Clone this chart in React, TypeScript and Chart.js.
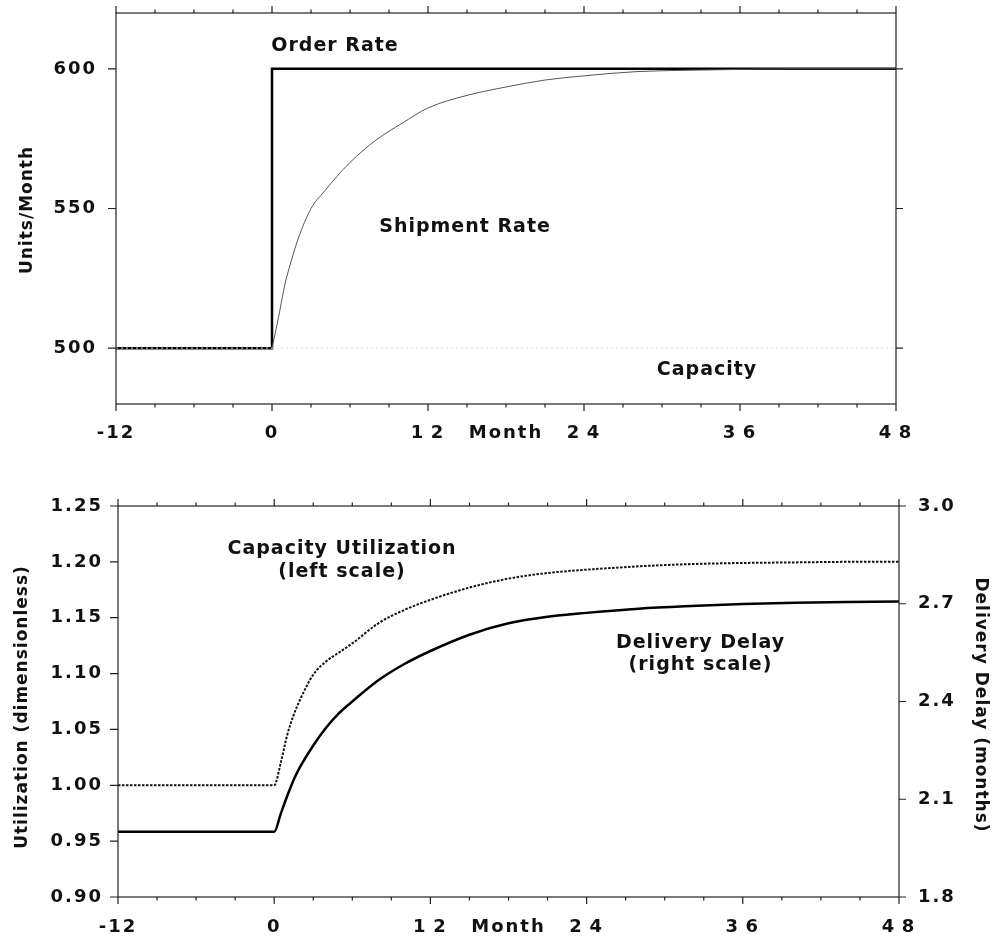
import React, { useEffect, useRef } from 'react';
import { Chart, registerables } from 'chart.js';

Chart.register(...registerables);

// ---------- Top panel data ----------
const orderMonths = [-12, 0, 0, 48];
const orderRate = [500, 500, 600, 600];

const shipmentMonths = [0, 0.5, 1, 1.5, 2, 3, 4, 5, 6, 8, 10, 12, 15, 18, 21, 24, 28, 32, 36, 40, 44, 48];
const shipmentRate = [500, 511, 523, 531.5, 539, 550, 556, 561.5, 566.5, 574.5, 580.5, 586, 590.5, 593.5, 596, 597.5, 599, 599.5, 599.8, 600, 600, 600];

const capacityMonths = [-12, 48];
const capacityRate = [500, 500];

const topYTicks = [500, 550, 600];
const topYLabels = ['500', '550', '600'];

// ---------- Bottom panel data ----------
const bottomMonths = [-12, 0, 0.5, 1, 1.5, 2, 3, 4, 5, 6, 8, 10, 12, 15, 18, 21, 24, 28, 32, 36, 40, 44, 48];
const utilization = [1.0, 1.0, 1.02, 1.045, 1.063, 1.077, 1.099, 1.111, 1.119, 1.127, 1.145, 1.157, 1.166, 1.177, 1.185, 1.19, 1.193, 1.196, 1.198, 1.199, 1.1995, 1.2, 1.2];
const deliveryDelay = [2.0, 2.0, 2.055, 2.11, 2.16, 2.2, 2.265, 2.32, 2.365, 2.4, 2.465, 2.515, 2.555, 2.605, 2.64, 2.66, 2.672, 2.685, 2.693, 2.699, 2.703, 2.705, 2.707];

const bottomYTicks = [0.9, 0.95, 1.0, 1.05, 1.1, 1.15, 1.2, 1.25];
const bottomYLabels = ['0.90', '0.95', '1.00', '1.05', '1.10', '1.15', '1.20', '1.25'];
const bottomY2Ticks = [1.8, 2.1, 2.4, 2.7, 3.0];
const bottomY2Labels = ['1.8', '2.1', '2.4', '2.7', '3.0'];

// ---------- Shared x axis ----------
const xMin = -12;
const xMax = 48;
const xStep = 3;
const xTickValues = [-12, 0, 12, 18, 24, 36, 48];
const xTickLabels = ['-12', '0', '1\u20092', 'Month', '2\u20094', '3\u20096', '4\u20098'];

// ---------- Annotations (data coordinates) ----------
const topNotes = [
  { text: 'Order Rate', x: 4.85, y: 608.2 },
  { text: 'Shipment Rate', x: 14.85, y: 543.4 },
  { text: 'Capacity', x: 33.46, y: 492.2 },
];
const bottomNotes = [
  { text: 'Capacity Utilization', x: 5.21, y: 1.2115 },
  { text: '(left scale)', x: 5.21, y: 1.1912 },
  { text: 'Delivery Delay', x: 32.75, y: 1.1276 },
  { text: '(right scale)', x: 32.75, y: 1.1077 },
];

const FONT = "'DejaVu Sans', 'Liberation Sans', sans-serif";
const INK = '#111';

const pts = (xs: number[], ys: number[]) => xs.map((x, i) => ({ x, y: ys[i] }));

const monthTicks = () => {
  const out: { value: number }[] = [];
  for (let v = xMin; v <= xMax; v += xStep) out.push({ value: v });
  return out;
};

const framePlugin = {
  id: 'frame',
  beforeDraw(chart: any) {
    chart.ctx.letterSpacing = '2px';
  },
  afterDraw(chart: any, _args: any, opts: any) {
    const ctx = chart.ctx;
    const { left, right, top, bottom } = chart.chartArea;
    ctx.save();
    ctx.strokeStyle = '#222';
    ctx.lineWidth = 1.2;
    ctx.strokeRect(left, top, right - left, bottom - top);
    ctx.beginPath();
    const xs = chart.scales.x;
    xs.ticks.forEach((t: any) => {
      const px = xs.getPixelForValue(t.value);
      const len = t.value % 12 === 0 ? 7 : 3.5;
      ctx.moveTo(px, bottom);
      ctx.lineTo(px, bottom + len);
      ctx.moveTo(px, top);
      ctx.lineTo(px, top - len);
    });
    const ys = chart.scales.y;
    const y2 = chart.scales.y2;
    ys.ticks.forEach((t: any) => {
      const py = ys.getPixelForValue(t.value);
      ctx.moveTo(left - 8, py);
      ctx.lineTo(left, py);
      if (!y2) {
        ctx.moveTo(right, py);
        ctx.lineTo(right + 7, py);
      }
    });
    if (y2) {
      y2.ticks.forEach((t: any) => {
        const py = y2.getPixelForValue(t.value);
        ctx.moveTo(right, py);
        ctx.lineTo(right + 7, py);
      });
    }
    ctx.stroke();

    // annotations
    ctx.letterSpacing = '1px';
    ctx.fillStyle = INK;
    ctx.font = `bold 19px ${FONT}`;
    ctx.textAlign = 'center';
    ctx.textBaseline = 'middle';
    (opts.notes || []).forEach((n: any) => {
      ctx.fillText(n.text, xs.getPixelForValue(n.x), ys.getPixelForValue(n.y));
    });

    // axis titles
    ctx.font = `bold 17px ${FONT}`;
    (opts.titles || []).forEach((t: any) => {
      ctx.save();
      ctx.translate(t.x, t.y);
      ctx.rotate(t.rot);
      ctx.fillText(t.text, 0, 0);
      ctx.restore();
    });
    ctx.restore();
  },
};

const tickFont = { family: FONT, size: 18, weight: 'bold' as const };
const hiddenGrid = { display: false, drawTicks: false, tickLength: 0 };

const noPad = (s: any) => {
  s.paddingTop = 0;
  s.paddingBottom = 0;
  s.paddingLeft = 0;
  s.paddingRight = 0;
};

const xScale = (height: number, padding: number) => ({
  type: 'linear',
  min: xMin,
  max: xMax,
  afterBuildTicks: (s: any) => {
    s.ticks = monthTicks();
  },
  afterFit: (s: any) => {
    s.height = height;
    noPad(s);
  },
  grid: hiddenGrid,
  border: { display: false },
  ticks: {
    autoSkip: false,
    maxRotation: 0,
    minRotation: 0,
    padding,
    font: tickFont,
    color: INK,
    callback: (v: number) => {
      const i = xTickValues.indexOf(v);
      return i >= 0 ? xTickLabels[i] : '';
    },
  },
});

const topConfig = (): any => ({
  type: 'line',
  data: {
    datasets: [
      {
        data: pts(capacityMonths, capacityRate),
        borderColor: '#dcdcdc',
        borderWidth: 1,
        borderDash: [2, 3],
        pointRadius: 0,
      },
      {
        data: pts(shipmentMonths, shipmentRate),
        borderColor: '#555',
        borderWidth: 1,
        pointRadius: 0,
        cubicInterpolationMode: 'monotone',
      },
      {
        data: pts(orderMonths, orderRate),
        borderColor: '#000',
        borderWidth: 2.5,
        pointRadius: 0,
        tension: 0,
      },
    ],
  },
  options: {
    responsive: false,
    animation: false,
    devicePixelRatio: 1,
    layout: { autoPadding: false, padding: { top: 13, right: 98, left: 0, bottom: 0 } },
    plugins: {
      legend: { display: false },
      tooltip: { enabled: false },
      frame: {
        notes: topNotes,
        titles: [{ text: 'Units/Month', x: 28, y: 210, rot: -Math.PI / 2 }],
      },
    },
    scales: {
      x: xScale(56, 19),
      y: {
        type: 'linear',
        min: 480,
        max: 620,
        afterBuildTicks: (s: any) => {
          s.ticks = topYTicks.map((v) => ({ value: v }));
        },
        afterFit: (s: any) => {
          s.width = 116;
          noPad(s);
        },
        grid: hiddenGrid,
        border: { display: false },
        ticks: {
          padding: 19,
          font: tickFont,
          color: INK,
          callback: (_v: number, i: number) => topYLabels[i],
        },
      },
    },
  },
  plugins: [framePlugin],
});

const bottomConfig = (): any => ({
  type: 'line',
  data: {
    datasets: [
      {
        data: pts(bottomMonths, utilization),
        yAxisID: 'y',
        borderColor: '#111',
        borderWidth: 2,
        borderDash: [2.5, 1.5],
        pointRadius: 0,
        cubicInterpolationMode: 'monotone',
      },
      {
        data: pts(bottomMonths, deliveryDelay),
        yAxisID: 'y2',
        borderColor: '#000',
        borderWidth: 2.5,
        pointRadius: 0,
        cubicInterpolationMode: 'monotone',
      },
    ],
  },
  options: {
    responsive: false,
    animation: false,
    devicePixelRatio: 1,
    layout: { autoPadding: false, padding: { top: 46, right: 0, left: 0, bottom: 0 } },
    plugins: {
      legend: { display: false },
      tooltip: { enabled: false },
      frame: {
        notes: bottomNotes,
        titles: [
          { text: 'Utilization (dimensionless)', x: 23, y: 247, rot: -Math.PI / 2 },
          { text: 'Delivery Delay (months)', x: 980, y: 245, rot: Math.PI / 2 },
        ],
      },
    },
    scales: {
      x: xScale(45, 20),
      y: {
        type: 'linear',
        position: 'left',
        min: 0.9,
        max: 1.25,
        afterBuildTicks: (s: any) => {
          s.ticks = bottomYTicks.map((v) => ({ value: v }));
        },
        afterFit: (s: any) => {
          s.width = 118;
          noPad(s);
        },
        grid: hiddenGrid,
        border: { display: false },
        ticks: {
          padding: 15,
          font: tickFont,
          color: INK,
          callback: (_v: number, i: number) => bottomYLabels[i],
        },
      },
      y2: {
        type: 'linear',
        position: 'right',
        min: 1.8,
        max: 3.0,
        afterBuildTicks: (s: any) => {
          s.ticks = bottomY2Ticks.map((v) => ({ value: v }));
        },
        afterFit: (s: any) => {
          s.width = 95;
          noPad(s);
        },
        grid: hiddenGrid,
        border: { display: false },
        ticks: {
          padding: 19,
          font: tickFont,
          color: INK,
          callback: (_v: number, i: number) => bottomY2Labels[i],
        },
      },
    },
  },
  plugins: [framePlugin],
});

export default function App() {
  const topRef = useRef<HTMLCanvasElement>(null);
  const botRef = useRef<HTMLCanvasElement>(null);

  useEffect(() => {
    const c1 = new Chart(topRef.current as HTMLCanvasElement, topConfig());
    const c2 = new Chart(botRef.current as HTMLCanvasElement, bottomConfig());
    return () => {
      c1.destroy();
      c2.destroy();
    };
  }, []);

  return (
    <div
      style={{
        position: 'absolute',
        left: 0,
        top: 0,
        width: 994,
        height: 942,
        background: '#fff',
      }}
    >
      <canvas ref={topRef} width={994} height={460} style={{ display: 'block' }} />
      <canvas ref={botRef} width={994} height={482} style={{ display: 'block' }} />
    </div>
  );
}
